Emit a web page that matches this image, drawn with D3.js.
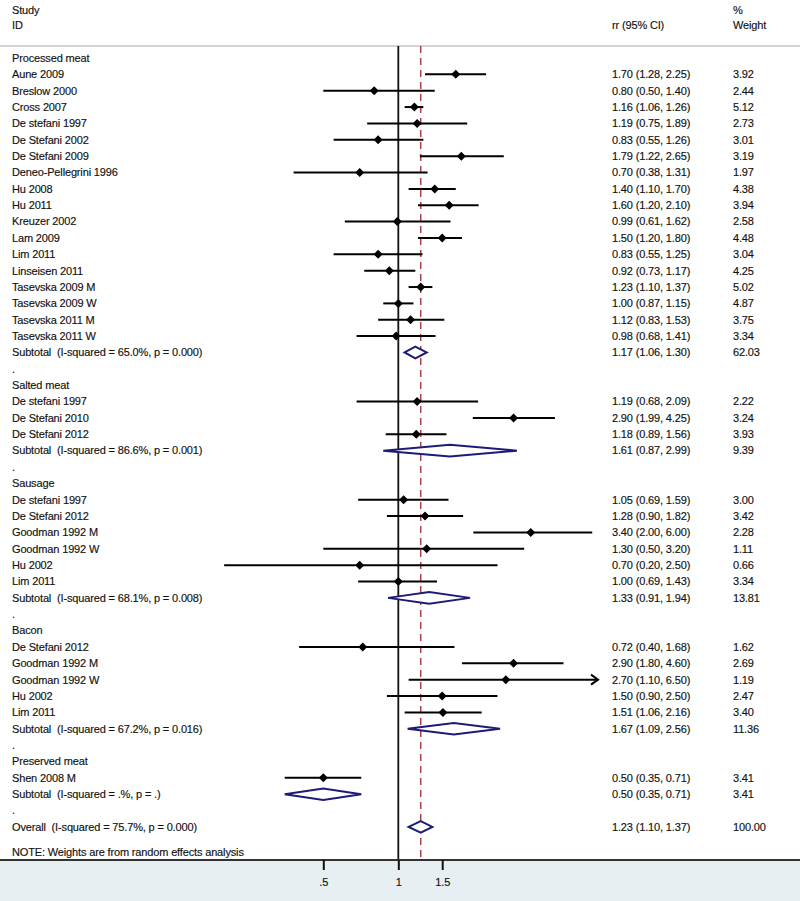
<!DOCTYPE html>
<html><head><meta charset="utf-8">
<script src="https://cdn.jsdelivr.net/npm/d3@7"></script>
<style>body{margin:0;background:#fff}svg{display:block}text{white-space:pre}</style>
</head><body><svg id="c" width="800" height="901"></svg>
<script>
const groups = ["Processed meat", "Salted meat", "Sausage", "Bacon", "Preserved meat"];
const studyGroup = [0,0,0,0,0,0,0,0,0,0,0,0,0,0,0,0,0, 1,1,1, 2,2,2,2,2,2, 3,3,3,3,3, 4];
const studyNames = ["Aune 2009","Breslow 2000","Cross 2007","De stefani 1997","De Stefani 2002","De Stefani 2009","Deneo-Pellegrini 1996","Hu 2008","Hu 2011","Kreuzer 2002","Lam 2009","Lim 2011","Linseisen 2011","Tasevska 2009 M","Tasevska 2009 W","Tasevska 2011 M","Tasevska 2011 W",
  "De stefani 1997","De Stefani 2010","De Stefani 2012",
  "De stefani 1997","De Stefani 2012","Goodman 1992 M","Goodman 1992 W","Hu 2002","Lim 2011",
  "De Stefani 2012","Goodman 1992 M","Goodman 1992 W","Hu 2002","Lim 2011",
  "Shen 2008 M"];
const studyRR = [1.70,0.80,1.16,1.19,0.83,1.79,0.70,1.40,1.60,0.99,1.50,0.83,0.92,1.23,1.00,1.12,0.98,
  1.19,2.90,1.18,
  1.05,1.28,3.40,1.30,0.70,1.00,
  0.72,2.90,2.70,1.50,1.51,
  0.50];
const studyLo = [1.28,0.50,1.06,0.75,0.55,1.22,0.38,1.10,1.20,0.61,1.20,0.55,0.73,1.10,0.87,0.83,0.68,
  0.68,1.99,0.89,
  0.69,0.90,2.00,0.50,0.20,0.69,
  0.40,1.80,1.10,0.90,1.06,
  0.35];
const studyHi = [2.25,1.40,1.26,1.89,1.26,2.65,1.31,1.70,2.10,1.62,1.80,1.25,1.17,1.37,1.15,1.53,1.41,
  2.09,4.25,1.56,
  1.59,1.82,6.00,3.20,2.50,1.43,
  1.68,4.60,6.50,2.50,2.16,
  0.71];
const studyWeight = [3.92,2.44,5.12,2.73,3.01,3.19,1.97,4.38,3.94,2.58,4.48,3.04,4.25,5.02,4.87,3.75,3.34,
  2.22,3.24,3.93,
  3.00,3.42,2.28,1.11,0.66,3.34,
  1.62,2.69,1.19,2.47,3.40,
  3.41];
const subLabels = ["Subtotal  (I-squared = 65.0%, p = 0.000)","Subtotal  (I-squared = 86.6%, p = 0.001)","Subtotal  (I-squared = 68.1%, p = 0.008)","Subtotal  (I-squared = 67.2%, p = 0.016)","Subtotal  (I-squared = .%, p = .)"];
const subRR = [1.17,1.61,1.33,1.67,0.50];
const subLo = [1.06,0.87,0.91,1.09,0.35];
const subHi = [1.30,2.99,1.94,2.56,0.71];
const subWeight = [62.03,9.39,13.81,11.36,3.41];
const overallLabel = "Overall  (I-squared = 75.7%, p = 0.000)";
const overallVals = [1.23,1.10,1.37];
const overallWeight = 100.00;
const tickValues = [0.5, 1, 1.5];
const tickLabels = [".5", "1", "1.5"];
const noteText = "NOTE: Weights are from random effects analysis";

const svg = d3.select("#c");
const FONT = "'Liberation Sans', Arial, sans-serif";
const TXT = "#111";
const LS = -0.15;
const xMin = 0.19, xMax = 6.33;
const x = d3.scaleLog().domain([0.5, 1.5]).range([323.3, 442.2]);
const plotTop = 46, plotBottom = 860;
const rowY0 = 58, rowH = 16.36;
const f2 = d3.format(".2f");

function styleText(sel) {
  return sel.attr("font-family", FONT).attr("font-size", 11).attr("fill", TXT)
    .attr("letter-spacing", LS).attr("stroke", TXT).attr("stroke-width", 0.15);
}

// build rows
const rows = [];
groups.forEach((g, gi) => {
  rows.push({type: "head", label: g});
  studyNames.forEach((n, i) => {
    if (studyGroup[i] === gi) rows.push({type: "study", label: n, rr: studyRR[i], lo: studyLo[i], hi: studyHi[i], w: studyWeight[i]});
  });
  rows.push({type: "sub", label: subLabels[gi], rr: subRR[gi], lo: subLo[gi], hi: subHi[gi], w: subWeight[gi]});
  rows.push({type: "dot", label: "."});
});
rows.push({type: "sub", label: overallLabel, rr: overallVals[0], lo: overallVals[1], hi: overallVals[2], w: overallWeight});
rows.forEach((r, i) => r.y = rowY0 + i * rowH);

// bottom band
svg.append("rect").attr("x", 0).attr("y", plotBottom).attr("width", 800).attr("height", 901 - plotBottom).attr("fill", "#e8eff2");
// top gray rule
svg.append("line").attr("x1", 0).attr("x2", 800).attr("y1", plotTop).attr("y2", plotTop).attr("stroke", "#c4c4c4").attr("stroke-width", 1.5);

// headers
const hdr = [["Study", 12, 10], ["ID", 12, 25], ["rr (95% CI)", 612, 25], ["%", 733, 10], ["Weight", 733, 25]];
styleText(svg.selectAll("text.hdr").data(hdr).join("text").attr("class", "hdr")
  .attr("x", d => d[1]).attr("y", d => d[2]).attr("dy", "0.35em")).text(d => d[0]);

// null line and overall dashed line
svg.append("line").attr("x1", x(1)).attr("x2", x(1)).attr("y1", plotTop).attr("y2", plotBottom).attr("stroke", "#111").attr("stroke-width", 1.8);
svg.append("line").attr("x1", x(overallVals[0])).attr("x2", x(overallVals[0])).attr("y1", plotTop).attr("y2", plotBottom)
  .attr("stroke", "#a8404c").attr("stroke-width", 1.5).attr("stroke-dasharray", "7,5");

// labels
styleText(svg.selectAll("text.lab").data(rows).join("text").attr("class", "lab")
  .attr("x", 12).attr("y", d => d.y).attr("dy", "0.35em")).text(d => d.label);

const est = rows.filter(r => r.type === "study" || r.type === "sub");
styleText(svg.selectAll("text.ci").data(est).join("text").attr("class", "ci")
  .attr("x", 612).attr("y", d => d.y).attr("dy", "0.35em"))
  .text(d => `${f2(d.rr)} (${f2(d.lo)}, ${f2(d.hi)})`);
styleText(svg.selectAll("text.wt").data(est).join("text").attr("class", "wt")
  .attr("x", 733).attr("y", d => d.y).attr("dy", "0.35em"))
  .text(d => f2(d.w));

// study CIs
const studies = rows.filter(r => r.type === "study");
svg.selectAll("line.ci").data(studies).join("line").attr("class", "ci")
  .attr("x1", d => x(Math.max(d.lo, xMin))).attr("x2", d => x(Math.min(d.hi, xMax)) - (d.hi > xMax ? 2 : 0))
  .attr("y1", d => d.y).attr("y2", d => d.y).attr("stroke", "#000").attr("stroke-width", 2);
// arrows for clipped CIs
svg.selectAll("path.arrow").data(studies.filter(d => d.hi > xMax)).join("path").attr("class", "arrow")
  .attr("d", d => { const t = x(xMax); return `M${t - 7},${d.y - 5} L${t},${d.y} L${t - 7},${d.y + 5}`; })
  .attr("fill", "none").attr("stroke", "#000").attr("stroke-width", 2);
// study point diamonds
svg.selectAll("path.pt").data(studies).join("path").attr("class", "pt")
  .attr("d", d => { const cx = x(d.rr), s = 4.5; return `M${cx - s},${d.y} L${cx},${d.y - s} L${cx + s},${d.y} L${cx},${d.y + s} Z`; })
  .attr("fill", "#000");

// subtotal diamonds
svg.selectAll("path.sub").data(rows.filter(r => r.type === "sub")).join("path").attr("class", "sub")
  .attr("d", d => { const h = 5.8; return `M${x(d.lo)},${d.y} L${x(d.rr)},${d.y - h} L${x(d.hi)},${d.y} L${x(d.rr)},${d.y + h} Z`; })
  .attr("fill", "#fff").attr("stroke", "#1c1c78").attr("stroke-width", 2);

// note
styleText(svg.append("text").attr("x", 12).attr("y", rows[rows.length - 1].y + 25).attr("dy", "0.35em")).text(noteText);

// bottom axis
svg.append("line").attr("x1", 0).attr("x2", 800).attr("y1", plotBottom).attr("y2", plotBottom).attr("stroke", "#333").attr("stroke-width", 1.8);
const axis = d3.axisBottom(x).tickValues(tickValues).tickFormat((d, i) => tickLabels[i]).tickSize(10).tickPadding(8);
const ag = svg.append("g").attr("transform", `translate(0,${plotBottom})`).call(axis);
ag.select(".domain").remove();
ag.selectAll(".tick line").attr("stroke", "#111").attr("stroke-width", 2);
styleText(ag.selectAll(".tick text"));
</script></body></html>
